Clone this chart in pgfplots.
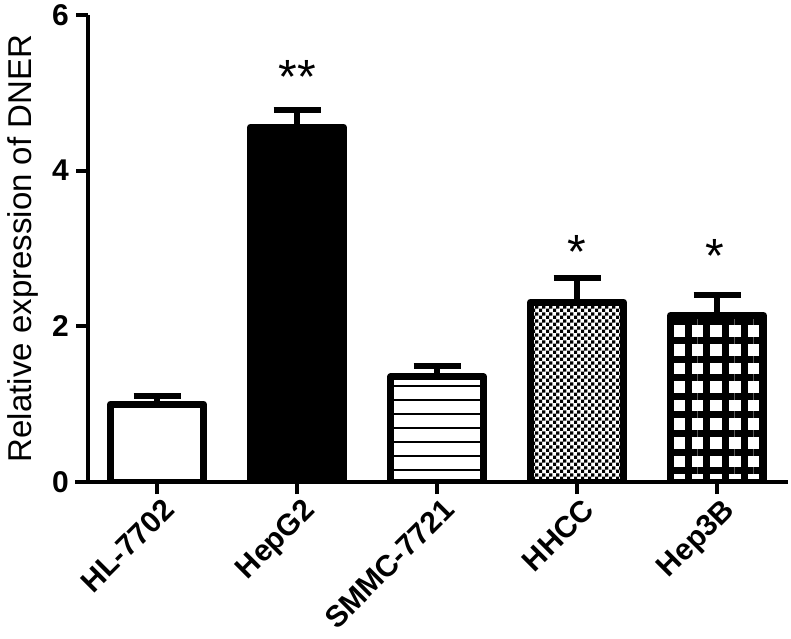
\documentclass[border=0pt]{standalone}
\usepackage{fontspec}
\setmainfont{Liberation Sans}
\usepackage{pgfplots}
\pgfplotsset{compat=1.18}
\usetikzlibrary{patterns,patterns.meta}
\pgfdeclarepatternformonly{mychecker}{\pgfpointorigin}{\pgfpoint{3.6pt}{3.6pt}}{\pgfpoint{3.6pt}{3.6pt}}{%
 \pgfpathrectangle{\pgfpointorigin}{\pgfpoint{1.8pt}{1.8pt}}%
 \pgfpathrectangle{\pgfpoint{1.8pt}{1.8pt}}{\pgfpoint{1.8pt}{1.8pt}}%
 \pgfusepath{fill}}
\begin{document}
\begin{tikzpicture}
\useasboundingbox (-44pt,-78pt) rectangle (351.5pt,241pt);
\begin{axis}[
  at={(0,0)}, anchor=south west,
  scale only axis, width=350pt, height=233.5pt,
  xmin=-0.493, xmax=4.507, ymin=0, ymax=6,
  axis x line*=bottom, axis y line*=left,
  axis line style={line width=2pt, black},
  x axis line style={shorten <=-6.5pt},
  ytick={0,2,4,6}, xtick={0,1,2,3,4},
  xticklabels={HL-7702,HepG2,SMMC-7721,HHCC,Hep3B},
  tick align=outside, major tick length=6pt,
  tick style={line width=2pt, black},
  /pgf/number format/assume math mode=true,
  yticklabel style={font=\bfseries\fontsize{15}{15}\selectfont},
  xticklabel style={font=\bfseries\fontsize{15}{15}\selectfont, rotate=45, anchor=north east, xshift=4pt, yshift=1pt},
  ylabel={Relative expression of DNER},
  ylabel style={font=\fontsize{16.5}{16.5}\selectfont},
  ybar, bar width=46.5pt, bar shift=0pt,
  every axis plot/.append style={line width=3.5pt, draw=black, line join=round},
  error bars/y dir=plus, error bars/y explicit,
  error bars/error mark=|,
  error bars/error bar style={line width=3pt, black},
  error bars/error mark options={line width=3pt, mark size=11.75pt, black},
]
\addplot[fill=white] coordinates {(0,1.0) +- (0,0.10)};
\addplot[fill=black] coordinates {(1,4.56) +- (0,0.22)};
\addplot[pattern={Lines[angle=0,distance=7pt,line width=1.3pt]}] coordinates {(2,1.35) +- (0,0.14)};
\addplot[pattern=mychecker] coordinates {(3,2.31) +- (0,0.31)};
\addplot[pattern={Hatch[angle=0,distance=9.3pt,line width=3.5pt]}] coordinates {(4,2.14) +- (0,0.26)};
\node[font=\fontsize{24}{24}\selectfont] at (axis cs:1,5.2) {**};
\node[font=\fontsize{24}{24}\selectfont] at (axis cs:3,2.95) {*};
\node[font=\fontsize{24}{24}\selectfont] at (axis cs:3.985,2.91) {*};
\end{axis}
\end{tikzpicture}
\end{document}
